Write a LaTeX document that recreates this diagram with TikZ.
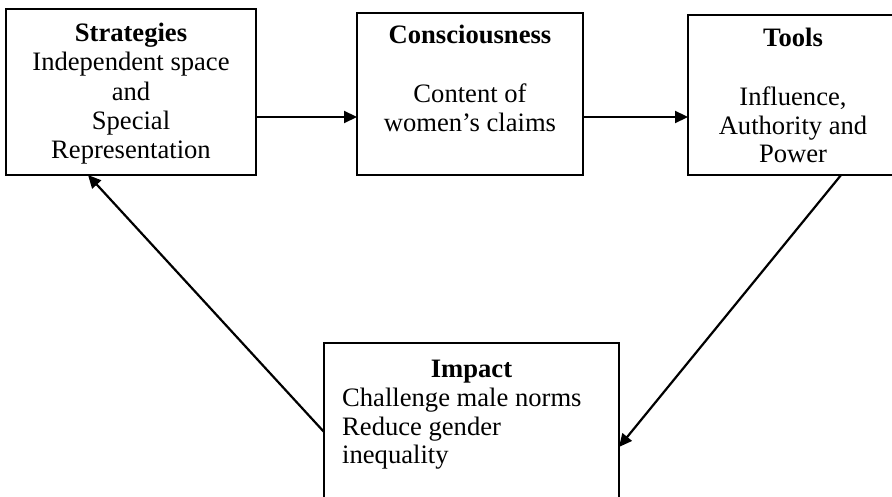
\documentclass[tikz,border=0pt]{standalone}
\usepackage{fontspec}
\setmainfont{Liberation Serif}
\usetikzlibrary{calc,arrows.meta}
\begin{document}
\begin{tikzpicture}[x=1pt,y=-1pt,
  box/.style={draw=black,line width=2pt,inner sep=0pt,outer sep=0pt,rectangle},
  txt/.style={inner sep=0pt,anchor=base,font=\fontsize{26.6}{29}\selectfont},
  ltxt/.style={txt,anchor=base west},
  arr/.style={line width=2.2pt,-{Triangle[length=13pt,width=12pt]}}]
\useasboundingbox (0,0) rectangle (892,497);
% boxes
\node[box,minimum width=250pt,minimum height=166pt] (strat) at (131,92) {};
\node[box,minimum width=226pt,minimum height=162pt] (cons) at (470,94) {};
\node[box,minimum width=210pt,minimum height=160pt] (tools) at (793,95) {};
\node[box,minimum width=295pt,minimum height=162pt] (imp) at (471.5,424) {};
% texts
\node[txt] (s0) at (131,42) {\textbf{Strategies}};
\node[txt] (s1) at (131,71) {Independent space};
\node[txt] (s2) at (131,100.5) {and};
\node[txt] (s3) at (131,130) {Special};
\node[txt] (s4) at (131,159) {Representation};
\node[txt] (c0) at (470,44) {\textbf{Consciousness}};
\node[txt] (c1) at (470,103) {Content of};
\node[txt] (c2) at (470,132) {women’s claims};
\node[txt] (t0) at (793,47) {\textbf{Tools}};
\node[txt] (t1) at (793,106) {Influence,};
\node[txt] (t2) at (793,135) {Authority and};
\node[txt] (t3) at (793,163) {Power};
\node[txt] (i0) at (471.5,377) {\textbf{Impact}};
\node[ltxt] (i1) at (342,406) {Challenge male norms};
\node[ltxt] (i2) at (342,435) {Reduce gender};
\node[ltxt] (i3) at (342,463) {inequality};
% connectors
\coordinate (r1) at (0,117);
\draw[arr] (strat.east |- r1) -- (cons.west |- r1);
\draw[arr] (cons.east |- r1) -- (tools.west |- r1);
\draw[arr] ($(tools.south west)!0.729!(tools.south east)$) -- ($(imp.north east)!0.642!(imp.south east)$);
\draw[arr] ($(imp.north west)!0.549!(imp.south west)$) -- ($(strat.south west)!0.328!(strat.south east)$);
\end{tikzpicture}
\end{document}
